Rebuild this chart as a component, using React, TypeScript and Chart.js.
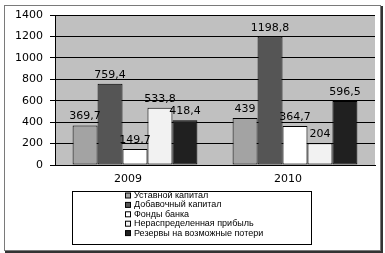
import React, { useEffect, useRef } from "react";
import { Chart, registerables } from "chart.js";

Chart.register(...registerables);

const categories = ["2009", "2010"];
const seriesNames = [
  "Уставной капитал",
  "Добавочный капитал",
  "Фонды банка",
  "Нераспределенная прибыль",
  "Резервы на возможные потери",
];
const ustavnoy = [369.7, 439];
const dobavochny = [759.4, 1198.8];
const fondy = [149.7, 364.7];
const neraspred = [533.8, 204];
const rezervy = [418.4, 596.5];
const yTicks = [0, 200, 400, 600, 800, 1000, 1200, 1400];

const colors = ["#a3a3a3", "#555555", "#ffffff", "#f2f2f2", "#202020"];

const fmt = (v: number) => String(v).replace(".", ",");

const bgPlugin = {
  id: "bg",
  beforeDraw(chart: any) {
    const { ctx, chartArea: a } = chart;
    ctx.save();
    ctx.fillStyle = "#ffffff";
    ctx.fillRect(0, 0, chart.width, chart.height);
    ctx.fillStyle = "#c0c0c0";
    ctx.fillRect(a.left, a.top, a.right - a.left, a.bottom - a.top);
    ctx.restore();
  },
  afterDatasetsDraw(chart: any) {
    const { ctx } = chart;
    ctx.save();
    ctx.font = "11px 'DejaVu Sans'";
    ctx.fillStyle = "#000";
    ctx.textAlign = "center";
    ctx.textBaseline = "alphabetic";
    chart.data.datasets.forEach((ds: any, i: number) => {
      const meta = chart.getDatasetMeta(i);
      meta.data.forEach((el: any, j: number) => {
        ctx.fillText(fmt(ds.data[j]), el.x, el.y - 6);
      });
    });
    ctx.restore();
  },
  afterDraw(chart: any) {
    const { ctx } = chart;
    ctx.save();
    // legend box
    ctx.strokeStyle = "#000";
    ctx.lineWidth = 1;
    ctx.strokeRect(72.5, 191.5, 239, 53);
    ctx.font = "9px 'Liberation Sans'";
    ctx.textBaseline = "middle";
    ctx.textAlign = "left";
    chart.data.datasets.forEach((ds: any, i: number) => {
      const y = 195.5 + i * 9.4;
      ctx.fillStyle = ds.backgroundColor;
      ctx.fillRect(125.5, y - 2.5, 5, 5);
      ctx.strokeStyle = "#000";
      ctx.strokeRect(125.5, y - 2.5, 5, 5);
      ctx.fillStyle = "#000";
      ctx.fillText(ds.label, 134, y);
    });
    // outer frame
    ctx.strokeStyle = "#7a7a7a";
    ctx.lineWidth = 1;
    ctx.strokeRect(4.5, 5.5, 376, 245);
    ctx.strokeStyle = "#333";
    ctx.lineWidth = 2;
    ctx.beginPath();
    ctx.moveTo(382, 6);
    ctx.lineTo(382, 252);
    ctx.lineTo(5, 252);
    ctx.stroke();
    ctx.restore();
  },
};

export default function App() {
  const ref = useRef<HTMLCanvasElement>(null);
  useEffect(() => {
    const values = [ustavnoy, dobavochny, fondy, neraspred, rezervy];
    const chart = new Chart(ref.current!, {
      type: "bar",
      data: {
        labels: categories,
        datasets: values.map((d, i) => ({
          label: seriesNames[i],
          data: d,
          backgroundColor: colors[i],
          borderColor: "#000",
          borderWidth: 1,
          borderSkipped: false,
          categoryPercentage: 0.78,
          barPercentage: 1.0,
        })),
      },
      options: {
        responsive: false,
        animation: false,
        layout: { padding: { left: 0, top: 15, right: 10, bottom: 68 } },
        plugins: { legend: { display: false }, tooltip: { enabled: false } },
        scales: {
          x: {
            grid: { display: false, drawTicks: false },
            border: { display: true, color: "#000", width: 1 },
            ticks: {
              color: "#000",
              font: { family: "'DejaVu Sans'", size: 11 },
              padding: 8,
              labelOffset: -7,
            },
            afterFit: (s: any) => {
              s.height = 20;
            },
          },
          y: {
            min: 0,
            max: 1400,
            afterBuildTicks: (s: any) => {
              s.ticks = yTicks.map((v) => ({ value: v }));
            },
            grid: { color: "#000", lineWidth: 1, tickLength: 5, drawTicks: true },
            border: { display: true, color: "#000", width: 1 },
            ticks: {
              color: "#000",
              font: { family: "'DejaVu Sans'", size: 11 },
              padding: 7,
              callback: (v: any) => String(v),
            },
            afterFit: (s: any) => {
              s.width = 55;
            },
          },
        },
      },
      plugins: [bgPlugin],
    });
    return () => chart.destroy();
  }, []);
  return (
    <div style={{ position: "fixed", left: 0, top: 0, width: 385, height: 253 }}>
      <canvas ref={ref} width={385} height={253} />
    </div>
  );
}
